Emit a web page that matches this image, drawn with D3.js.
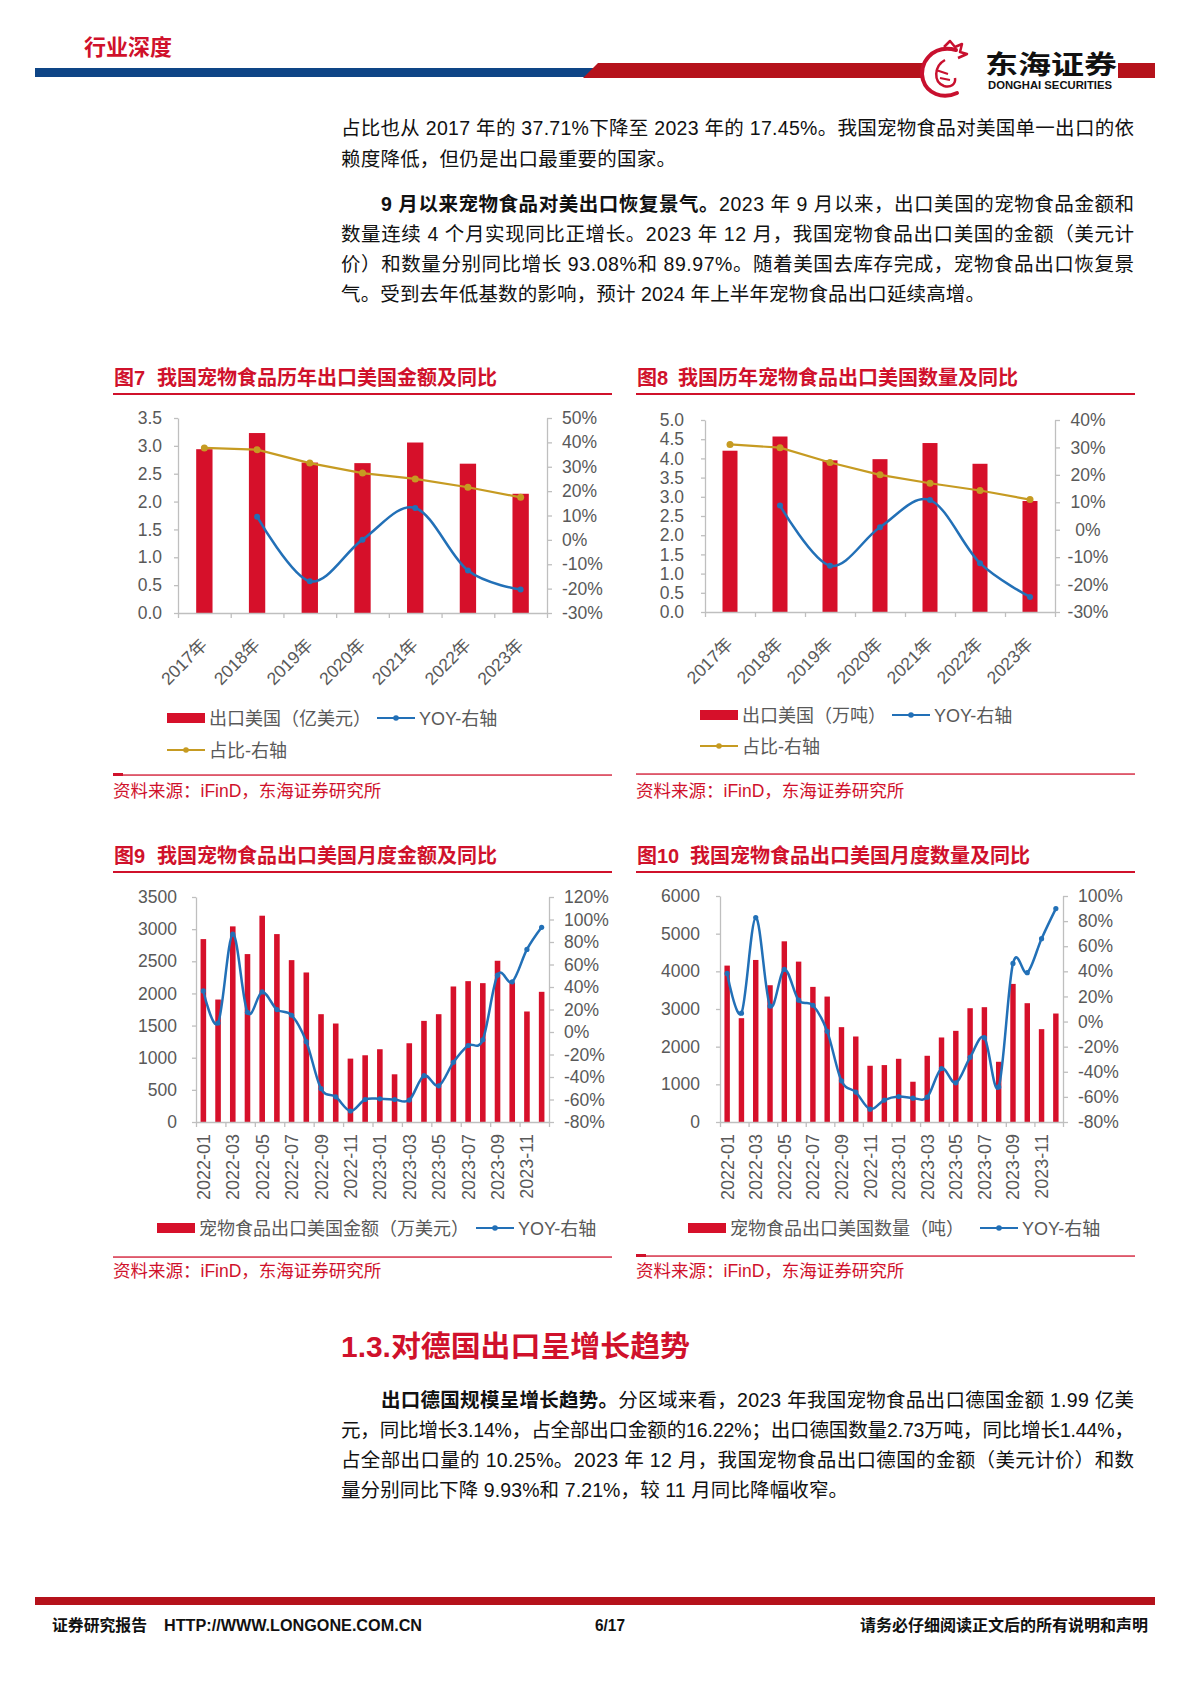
<!DOCTYPE html>
<html><head><meta charset="utf-8">
<script src="https://cdn.jsdelivr.net/npm/d3@7"></script>
<style>body{margin:0;background:#fff}svg{display:block}</style>
</head><body>
<svg id="page" width="1190" height="1683"></svg>
<script>
// ---------------- DATA ----------------
const annualYears = ["2017年","2018年","2019年","2020年","2021年","2022年","2023年"];
const usValue = [2.94, 3.23, 2.70, 2.69, 3.06, 2.68, 2.14];          // 亿美元
const usValueYoy = [null, 9.5, -17.0, 0.1, 13.1, -12.6, -20.4];       // %
const usValueShare = [37.71, 37.0, 31.5, 27.4, 25.0, 21.6, 17.45];    // %
const usQty = [4.20, 4.57, 3.95, 3.98, 4.40, 3.86, 2.89];             // 万吨
const usQtyYoy = [null, 8.8, -13.1, 0.9, 10.8, -12.2, -24.5];
const usQtyShare = [31.1, 29.9, 24.5, 20.0, 16.95, 14.3, 11.0];

const months = ["2022-01","2022-02","2022-03","2022-04","2022-05","2022-06","2022-07","2022-08","2022-09","2022-10","2022-11","2022-12",
                "2023-01","2023-02","2023-03","2023-04","2023-05","2023-06","2023-07","2023-08","2023-09","2023-10","2023-11","2023-12"];
const monthlyValue = [2845,1905,3043,2612,3209,2923,2518,2326,1677,1532,986,1038,1132,742,1225,1573,1677,2108,2191,2160,2508,2170,1719,2025];
const monthlyValueYoy = [36.5,8.0,87.0,17.5,35.6,19.9,14.9,-8.6,-50.3,-57.6,-70.2,-60.0,-59.4,-60.0,-60.5,-38.8,-47.8,-26.9,-12.0,-6.9,50.5,44.6,73.4,93.08];
const monthlyQty = [4152,2756,4302,3631,4797,4258,3587,3330,2518,2270,1493,1511,1678,1069,1758,2244,2420,3021,3048,1599,3666,3154,2465,2880];
const monthlyQtyYoy = [38.3,6.7,82.8,12.3,41.5,17.0,13.0,-7.8,-47.2,-56.2,-69.8,-62.5,-59.7,-61.0,-60.2,-37.4,-48.8,-28.5,-12.8,-52.1,46.3,38.9,66.0,89.97];

const tick7L = [0,0.5,1.0,1.5,2.0,2.5,3.0,3.5];
const tick7R = [-30,-20,-10,0,10,20,30,40,50];
const tick8L = [0,0.5,1.0,1.5,2.0,2.5,3.0,3.5,4.0,4.5,5.0];
const tick8R = [-30,-20,-10,0,10,20,30,40];
const tick9L = [0,500,1000,1500,2000,2500,3000,3500];
const tick9R = [-80,-60,-40,-20,0,20,40,60,80,100,120];
const tick10L = [0,1000,2000,3000,4000,5000,6000];
const tick10R = [-80,-60,-40,-20,0,20,40,60,80,100];

const para1 = [
  [{t:"占比也从 2017 年的 37.71%下降至 2023 年的 17.45%。我国宠物食品对美国单一出口的依"}],
  [{t:"赖度降低，但仍是出口最重要的国家。"}],
  [{t:"9 月以来宠物食品对美出口恢复景气。",b:true},{t:"2023 年 9 月以来，出口美国的宠物食品金额和"}],
  [{t:"数量连续 4 个月实现同比正增长。2023 年 12 月，我国宠物食品出口美国的金额（美元计"}],
  [{t:"价）和数量分别同比增长 93.08%和 89.97%。随着美国去库存完成，宠物食品出口恢复景"}],
  [{t:"气。受到去年低基数的影响，预计 2024 年上半年宠物食品出口延续高增。"}]
];
const para2 = [
  [{t:"出口德国规模呈增长趋势。",b:true},{t:"分区域来看，2023 年我国宠物食品出口德国金额 1.99 亿美"}],
  [{t:"元，同比增长3.14%，占全部出口金额的16.22%；出口德国数量2.73万吨，同比增长1.44%，"}],
  [{t:"占全部出口量的 10.25%。2023 年 12 月，我国宠物食品出口德国的金额（美元计价）和数"}],
  [{t:"量分别同比下降 9.93%和 7.21%，较 11 月同比降幅收窄。"}]
];

// ---------------- STYLE ----------------
const FONT = '"Liberation Sans", Arial, "Noto Sans CJK SC", sans-serif';
const RED = '#D0112B';
const BAR = '#D6102A';
const BLUE = '#2270B7';
const GOLD = '#C69B22';
const GRAY = '#BFBFBF';
const LBL = '#595959';
const TICKFS = 17.5;

const svg = d3.select('#page').style('font-family', FONT);
svg.append('rect').attr('width',1190).attr('height',1683).attr('fill','#fff');

// ---------------- HEADER ----------------
svg.append('text').attr('x',84).attr('y',55).attr('fill',RED).attr('font-size',22).attr('font-weight','bold')
  .attr('textLength',88).attr('lengthAdjust','spacingAndGlyphs').text('行业深度');
svg.append('rect').attr('x',35).attr('y',68).attr('width',560).attr('height',9).attr('fill','#0E4586');
svg.append('polygon').attr('points','583,78 598,63 924,63 924,78').attr('fill','#B5121B');
svg.append('rect').attr('x',1118).attr('y',63).attr('width',37).attr('height',15).attr('fill','#B5121B');
// logo
const logo = svg.append('g');
logo.append('path').attr('d','M956,50 C932,44 918,64 923,80 C927,93 942,100 957,93')
  .attr('fill','none').attr('stroke','#C8102E').attr('stroke-width',4).attr('stroke-linecap','round');
logo.append('path').attr('d','M944,47 L950,41 L955,47 L962,44 L960,52 L967,54 L958,58')
  .attr('fill','none').attr('stroke','#C8102E').attr('stroke-width',2.5).attr('stroke-linejoin','round');
logo.append('path').attr('d','M945,60 C934,66 933,82 944,86 C951,88 956,84 955,78')
  .attr('fill','none').attr('stroke','#C8102E').attr('stroke-width',2.5);
logo.append('path').attr('d','M936,70 L948,74 M940,78 L950,80')
  .attr('fill','none').attr('stroke','#C8102E').attr('stroke-width',2);
logo.append('text').attr('x',985).attr('y',74).attr('font-size',26).attr('font-weight','bold').attr('fill','#111')
  .attr('textLength',132).attr('lengthAdjust','spacingAndGlyphs').style('font-family','"Noto Sans CJK SC"').text('东海证券');
logo.append('text').attr('x',988).attr('y',89).attr('font-size',10.5).attr('font-weight','bold').attr('fill','#111')
  .attr('textLength',124).attr('lengthAdjust','spacingAndGlyphs').text('DONGHAI SECURITIES');

// ---------------- BODY TEXT ----------------
function textLine(segs, x, y, end, size, color){
  const t = svg.append('text').attr('x',x).attr('y',y).attr('font-size',size).attr('fill',color||'#111')
    .attr('textLength',end-x).attr('lengthAdjust','spacing');
  segs.forEach(s=>t.append('tspan').attr('font-weight',s.b?'bold':'normal').text(s.t));
  return t;
}
const p1x = [341,341,381,341,341,341], p1e=[1134,676,1134,1134,1134,985], p1y=[135,166,211,241,271,301];
para1.forEach((l,i)=>textLine(l,p1x[i],p1y[i],p1e[i],19.5));
const p2x=[381,341,341,341], p2e=[1134,1134,1134,848], p2y=[1407,1437,1467,1497];
para2.forEach((l,i)=>textLine(l,p2x[i],p2y[i],p2e[i],19.5));
svg.append('text').attr('x',341).attr('y',1357).attr('font-size',29).attr('font-weight','bold').attr('fill',RED)
  .attr('textLength',349).attr('lengthAdjust','spacingAndGlyphs').text('1.3.对德国出口呈增长趋势');

// ---------------- CHARTS ----------------
function frame(c){
  svg.append('text').attr('x',c.fx).attr('y',c.ty).attr('font-size',20).attr('font-weight','bold').attr('fill',RED).text(c.num);
  svg.append('text').attr('x',c.tx).attr('y',c.ty).attr('font-size',20).attr('font-weight','bold').attr('fill',RED)
    .attr('textLength',340).attr('lengthAdjust','spacingAndGlyphs').text(c.title);
  svg.append('rect').attr('x',c.fx-1).attr('y',c.tl-1).attr('width',c.fw).attr('height',2).attr('fill',RED);
  svg.append('rect').attr('x',c.fx-1).attr('y',c.sl-0.6).attr('width',c.fw).attr('height',1.3).attr('fill',RED);
  if (c.mark) svg.append('rect').attr('x',c.fx-1).attr('y',c.sl-2).attr('width',10).attr('height',3).attr('fill',RED);
  svg.append('text').attr('x',c.fx-1).attr('y',c.sy).attr('font-size',17.5).attr('fill',RED).text('资料来源：iFinD，东海证券研究所');
}
function legend(items){
  items.forEach(it=>{
    if (it.type==='bar') svg.append('rect').attr('x',it.x).attr('y',it.y-5).attr('width',38).attr('height',10).attr('fill',BAR);
    else {
      svg.append('line').attr('x1',it.x).attr('x2',it.x+38).attr('y1',it.y).attr('y2',it.y).attr('stroke',it.color).attr('stroke-width',2);
      svg.append('circle').attr('cx',it.x+19).attr('cy',it.y).attr('r',2.8).attr('fill',it.color);
    }
    svg.append('text').attr('x',it.x+42).attr('y',it.y+6.5).attr('font-size',18).attr('fill',LBL).text(it.label);
  });
}
function combo(c){
  const g = svg.append('g');
  const n = c.cats.length;
  const x = d3.scaleBand().domain(c.cats).range([c.x0,c.x1]).padding(0);
  const bw = x.bandwidth(), barW = bw*c.barRatio;
  const cx = i => x(c.cats[i]) + bw/2;
  const yL = d3.scaleLinear().domain(c.lDom).range([c.yB,c.yT]);
  const yR = d3.scaleLinear().domain(c.rDom).range([c.yB,c.yT]);
  g.append('g').selectAll('rect').data(c.bars).join('rect')
    .attr('x',(d,i)=>cx(i)-barW/2).attr('width',barW)
    .attr('y',d=>yL(d)).attr('height',d=>c.yB-yL(d)).attr('fill',BAR);
  const la = g.append('g').attr('transform',`translate(${c.x0},0)`)
    .call(d3.axisLeft(yL).tickValues(c.lTicks).tickFormat(c.lFmt).tickSizeInner(4).tickSizeOuter(0).tickPadding(c.lPad));
  const ra = g.append('g').attr('transform',`translate(${c.x1},0)`)
    .call(d3.axisRight(yR).tickValues(c.rTicks).tickFormat(d=>d+'%').tickSizeInner(5).tickSizeOuter(0).tickPadding(c.rPad));
  if (c.rCenter) ra.selectAll('text').attr('text-anchor','middle');
  const xi = d3.scaleLinear().domain([0,n]).range([c.x0,c.x1]);
  const ba = g.append('g').attr('transform',`translate(0,${c.yB})`)
    .call(d3.axisBottom(xi).tickValues(d3.range(0,n+1,c.tickStep)).tickFormat('').tickSizeInner(5).tickSizeOuter(0));
  [la,ra,ba].forEach(a=>{
    a.selectAll('path,line').attr('stroke',GRAY).attr('stroke-width',1.3);
    a.selectAll('text').attr('fill',LBL).style('font-family',FONT).style('font-size',TICKFS+'px');
  });
  // category labels
  const lab = g.append('g').attr('fill',LBL).attr('text-anchor','end');
  c.cats.forEach((k,i)=>{
    if (c.labMode==='rot45') {
      lab.append('text').attr('font-size',17.5).attr('transform',`translate(${cx(i)+4},${c.yB+33}) rotate(-45)`).text(k);
    } else if (i % 2 === 0) {
      lab.append('text').attr('font-size',18).attr('transform',`translate(${cx(i)+6.5},${c.yB+12}) rotate(-90)`).text(k);
    }
  });
  c.lines.forEach(L=>{
    const pts = L.values.map((v,i)=>({v,i})).filter(p=>p.v!=null);
    const line = d3.line().x(p=>cx(p.i)).y(p=>yR(p.v)).curve(L.curve);
    g.append('path').attr('d',line(pts)).attr('fill','none').attr('stroke',L.color).attr('stroke-width',L.w);
    g.append('g').selectAll('circle').data(pts).join('circle')
      .attr('cx',p=>cx(p.i)).attr('cy',p=>yR(p.v)).attr('r',L.r).attr('fill',L.color);
  });
}
const smooth = d3.curveCardinal.tension(0);

// Figure 7
frame({fx:114,tx:157,ty:385,num:'图7',title:'我国宠物食品历年出口美国金额及同比',tl:394,fw:499,sl:775,sy:797,mark:true});
combo({cats:annualYears,bars:usValue,x0:178,x1:547,yT:418,yB:613,barRatio:0.31,
  lDom:[0,3.5],lTicks:tick7L,lFmt:d3.format('.1f'),lPad:12,
  rDom:[-30,50],rTicks:tick7R,rPad:10,tickStep:1,labMode:'rot45',
  lines:[{values:usValueYoy,color:BLUE,curve:smooth,w:2.5,r:3},
         {values:usValueShare,color:GOLD,curve:d3.curveLinear,w:2.2,r:3.5}]});
legend([{type:'bar',x:167,y:718,label:'出口美国（亿美元）'},
        {type:'line',color:BLUE,x:377,y:718,label:'YOY-右轴'},
        {type:'line',color:GOLD,x:167,y:750,label:'占比-右轴'}]);

// Figure 8
frame({fx:637,tx:678,ty:385,num:'图8',title:'我国历年宠物食品出口美国数量及同比',tl:394,fw:499,sl:774,sy:797});
combo({cats:annualYears,bars:usQty,x0:705,x1:1055,yT:420,yB:612,barRatio:0.30,
  lDom:[0,5],lTicks:tick8L,lFmt:d3.format('.1f'),lPad:17,
  rDom:[-30,40],rTicks:tick8R,rPad:28,rCenter:true,tickStep:1,labMode:'rot45',
  lines:[{values:usQtyYoy,color:BLUE,curve:smooth,w:2.5,r:3},
         {values:usQtyShare,color:GOLD,curve:d3.curveLinear,w:2.2,r:3.5}]});
legend([{type:'bar',x:700,y:715,label:'出口美国（万吨）'},
        {type:'line',color:BLUE,x:892,y:715,label:'YOY-右轴'},
        {type:'line',color:GOLD,x:700,y:746,label:'占比-右轴'}]);

// Figure 9
frame({fx:114,tx:157,ty:863,num:'图9',title:'我国宠物食品出口美国月度金额及同比',tl:872,fw:499,sl:1257,sy:1277});
combo({cats:months,bars:monthlyValue,x0:196,x1:549,yT:897,yB:1122,barRatio:0.38,
  lDom:[0,3500],lTicks:tick9L,lFmt:d3.format('d'),lPad:15,
  rDom:[-80,120],rTicks:tick9R,rPad:10,tickStep:2,labMode:'rot90',
  lines:[{values:monthlyValueYoy,color:BLUE,curve:smooth,w:2.5,r:2.6}]});
legend([{type:'bar',x:157,y:1228,label:'宠物食品出口美国金额（万美元）'},
        {type:'line',color:BLUE,x:476,y:1228,label:'YOY-右轴'}]);

// Figure 10
frame({fx:637,tx:690,ty:863,num:'图10',title:'我国宠物食品出口美国月度数量及同比',tl:872,fw:499,sl:1256,sy:1277,mark:true});
combo({cats:months,bars:monthlyQty,x0:720,x1:1063,yT:896,yB:1122,barRatio:0.38,
  lDom:[0,6000],lTicks:tick10L,lFmt:d3.format('d'),lPad:16,
  rDom:[-80,100],rTicks:tick10R,rPad:10,tickStep:2,labMode:'rot90',
  lines:[{values:monthlyQtyYoy,color:BLUE,curve:smooth,w:2.5,r:2.6}]});
legend([{type:'bar',x:688,y:1228,label:'宠物食品出口美国数量（吨）'},
        {type:'line',color:BLUE,x:980,y:1228,label:'YOY-右轴'}]);

// ---------------- FOOTER ----------------
svg.append('rect').attr('x',35).attr('y',1597).attr('width',1120).attr('height',8).attr('fill','#B5121B');
const ft = (x,w,s,f)=>svg.append('text').attr('x',x).attr('y',1631).attr('font-size',16).attr('font-weight','bold').attr('fill','#111')
  .attr('textLength',w).attr('lengthAdjust','spacingAndGlyphs').style('font-family',f||FONT).text(s);
ft(52,95,'证券研究报告');
ft(164,258,'HTTP://WWW.LONGONE.COM.CN','"Liberation Sans Narrow","Liberation Sans",Arial');
ft(595,30,'6/17','"Liberation Sans Narrow","Liberation Sans",Arial');
ft(860,288,'请务必仔细阅读正文后的所有说明和声明');
</script>
</body></html>
